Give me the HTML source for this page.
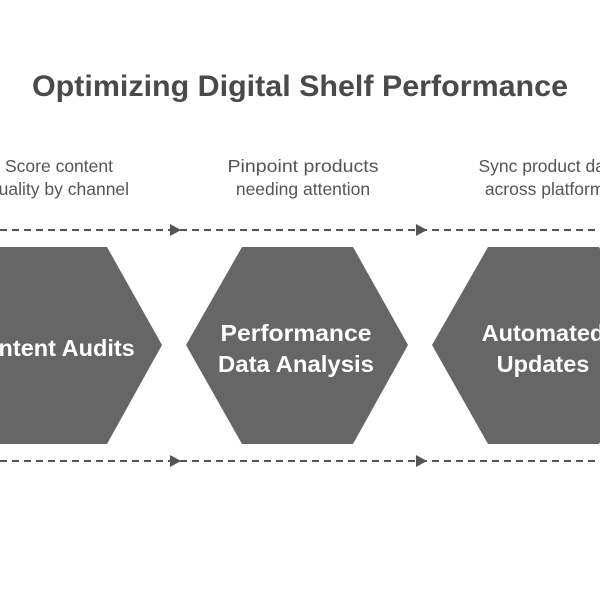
<!DOCTYPE html>
<html><head><style>
body{margin:0;background:#fff;}
svg{display:block;font-family:"Liberation Sans",Arial,sans-serif;}
</style></head><body>
<svg width="600" height="600" viewBox="0 0 600 600">
<text x="300" y="96" text-anchor="middle" font-size="30" font-weight="bold" fill="#4a4a4a" textLength="536" lengthAdjust="spacingAndGlyphs">Optimizing Digital Shelf Performance</text>
<g font-size="17.5" fill="#555" text-anchor="middle">
<text x="59" y="172">Score content</text>
<text x="59" y="195">quality by channel</text>
<text x="303" y="172" textLength="151" lengthAdjust="spacingAndGlyphs">Pinpoint products</text>
<text x="303" y="195">needing attention</text>
<text x="549" y="172">Sync product data</text>
<text x="549" y="195">across platforms</text>
</g>
<g stroke="#555" stroke-width="2" stroke-dasharray="7,5" fill="none">
<line x1="0" y1="230" x2="600" y2="230"/>
<line x1="0" y1="461" x2="600" y2="461"/>
</g>
<g fill="#555">
<polygon points="170,224 181,230 170,236"/>
<polygon points="416,224 427,230 416,236"/>
<polygon points="170,455 181,461 170,467"/>
<polygon points="416,455 427,461 416,467"/>
</g>
<g fill="#666">
<polygon points="-60,345 -4,247 107,247 162,345 107,444 -4,444"/>
<polygon points="186,345 242,247 353,247 408,345 353,444 242,444"/>
<polygon points="432,345 488,247 599,247 654,345 599,444 488,444"/>
</g>
<g font-size="23.5" font-weight="bold" fill="#fff" text-anchor="middle">
<text x="51" y="356">Content Audits</text>
<text x="296" y="341" textLength="151" lengthAdjust="spacingAndGlyphs">Performance</text>
<text x="296" y="372" textLength="156" lengthAdjust="spacingAndGlyphs">Data Analysis</text>
<text x="543" y="341">Automated</text>
<text x="543" y="372">Updates</text>
</g>
</svg>
</body></html>
